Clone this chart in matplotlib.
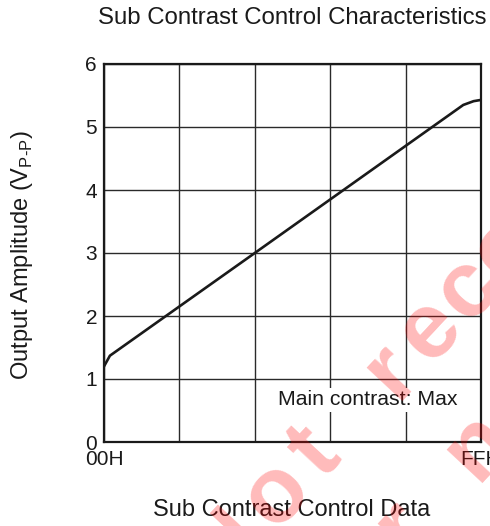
import matplotlib
matplotlib.use("Agg")
import matplotlib.pyplot as plt
from matplotlib.transforms import IdentityTransform
import numpy as np

plt.rcParams['font.family'] = ['Liberation Sans', 'DejaVu Sans']
plt.rcParams['mathtext.fontset'] = 'custom'
plt.rcParams['mathtext.rm'] = 'Liberation Sans'

# sub contrast control data (00H..FFH) vs output amplitude (Vp-p)
code = [0, 4, 102, 204, 243, 250, 255]
amp = [1.2, 1.37, 3.0, 4.7, 5.35, 5.41, 5.43]

x_ticks = [0, 51, 102, 153, 204, 255]
x_labels = ['00H', '', '', '', '', 'FFH']
y_ticks = [0, 1, 2, 3, 4, 5, 6]

fig = plt.figure(figsize=(4.9, 5.26), dpi=100)
ax = fig.add_axes([104/490, 84/526, 377/490, 378/526])

ax.plot(code, amp, color='#1a1a1a', lw=1.9, solid_joinstyle='round', zorder=3)

ax.set_xlim(0, 255)
ax.set_ylim(0, 6)
ax.set_xticks(x_ticks)
ax.set_xticklabels(x_labels)
ax.set_yticks(y_ticks)
ax.tick_params(length=0, labelsize=15, colors='#1a1a1a')
ax.tick_params(axis='y', pad=5)
ax.tick_params(axis='x', pad=6)
ax.grid(True, color='#2a2a2a', lw=1.0)
ax.set_axisbelow(True)
for s in ax.spines.values():
    s.set_linewidth(1.6)
    s.set_color('#1a1a1a')

ax.text(178.6, 0.67, 'Main contrast: Max', fontsize=15.3, color='#1a1a1a',
        ha='center', va='center', zorder=4,
        bbox=dict(facecolor='white', edgecolor='none', pad=2))

fig.text(0.596, 0.966, 'Sub Contrast Control Characteristics', fontsize=17.3,
         ha='center', va='center', color='#1a1a1a')
fig.text(0.596, 0.030, 'Sub Contrast Control Data', fontsize=17,
         ha='center', va='center', color='#1a1a1a')
fig.text(0.045, 0.515, 'Output Amplitude (V$_{\\mathregular{P\u2010P}}$)', fontsize=17,
         ha='center', va='center', rotation=90, color='#1a1a1a')


# watermark, spaced out letters along a 47 degree line (pixel coords)
def watermark(line, x0, y0, step=56, angle=47):
    a = np.radians(angle)
    ux, uy = np.cos(a), np.sin(a)
    d = 0
    for ch in line:
        fig.text(x0 + d * ux, y0 + d * uy, ch, fontsize=67, fontweight='bold',
                 color='red', alpha=0.27, rotation=angle, rotation_mode='anchor',
                 ha='center', va='baseline', transform=IdentityTransform(),
                 zorder=10)
        d += 72 if ch == 'N' else step


watermark('Not recommended', 245, -37)
# second line sits ~115 px below the first
watermark('for new design', 245 + 84 + 21 * 0.682, -37 - 78 + 21 * 0.731)

fig.savefig('out.png', dpi=100)
